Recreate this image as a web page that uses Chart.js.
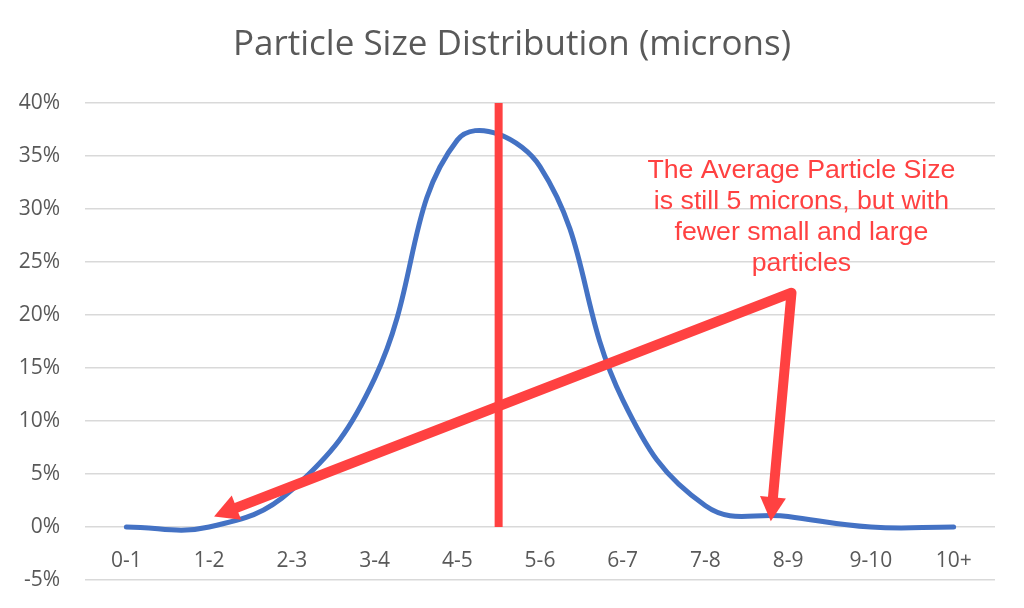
<!DOCTYPE html>
<html>
<head>
<meta charset="utf-8">
<script src="https://cdn.jsdelivr.net/npm/chart.js@4.4.0/dist/chart.umd.min.js"></script>
<style>
  html, body { margin: 0; padding: 0; background: #fff; }
  #wrap { width: 1024px; height: 608px; }
</style>
</head>
<body>
<div id="wrap"><canvas id="sizeChart" width="1024" height="608"></canvas></div>
<script>
// categories (x axis) and percent of particles in each bin
const sizeBins = ["0-1", "1-2", "2-3", "3-4", "4-5", "5-6", "6-7", "7-8", "8-9", "9-10", "10+"];
const percentValues = [0, 0, 3.5, 14, 36.5, 34, 12, 2, 1, 0, 0];

// average marker at 5 microns (between 4-5 and 5-6)
const avgLineX = [4.5, 4.5];
const avgLineY = [0, 40.3];

// arrows: shared start, two ends (x in bin index, y in %)
const arrowStart = { x: 8.04, y: 22.1 };
const arrowEndsX = [1.06, 7.79];
const arrowEndsY = [1.0, 0.55];

const chartTitle = "Particle Size Distribution (microns)";
const noteLines = [
    "The Average Particle Size",
    "is still 5 microns, but with",
    "fewer small and large",
    "particles"
];
const noteAnchor = { x: 8.16, y: 33.6 };

const red = "#FF4141";
const grey = "#595959";

// title centred on the whole canvas (built-in title is centred on padded box)
const titlePlugin = {
    id: "pageTitle",
    afterDraw(chart) {
        const ctx = chart.ctx;
        ctx.save();
        ctx.font = "35px 'Open Sans'";
        ctx.fillStyle = grey;
        ctx.textAlign = "center";
        ctx.textBaseline = "middle";
        ctx.fillText(chartTitle, chart.width / 2, 45);
        ctx.restore();
    }
};

// draws the arrows and the red note
const arrowPlugin = {
    id: "arrows",
    afterDatasetsDraw(chart) {
        const ctx = chart.ctx;
        const xs = chart.scales.x, ys = chart.scales.y;
        const sx = xs.getPixelForValue(arrowStart.x);
        const sy = ys.getPixelForValue(arrowStart.y);
        const headLen = 24, headW = 26;
        ctx.save();
        ctx.strokeStyle = red;
        ctx.fillStyle = red;
        ctx.lineWidth = 10;
        ctx.lineCap = "round";
        ctx.lineJoin = "round";
        const bases = [];
        for (let i = 0; i < arrowEndsX.length; i++) {
            const ex = xs.getPixelForValue(arrowEndsX[i]);
            const ey = ys.getPixelForValue(arrowEndsY[i]);
            const ang = Math.atan2(ey - sy, ex - sx);
            const bx = ex - Math.cos(ang) * headLen;
            const by = ey - Math.sin(ang) * headLen;
            bases.push([ex, ey, bx, by, ang]);
        }
        // shafts as one path so the corner is joined
        ctx.beginPath();
        ctx.moveTo(bases[0][2], bases[0][3]);
        ctx.lineTo(sx, sy);
        ctx.lineTo(bases[1][2], bases[1][3]);
        ctx.stroke();
        bases.forEach(([ex, ey, bx, by, ang]) => {
            const px = -Math.sin(ang) * headW / 2;
            const py = Math.cos(ang) * headW / 2;
            ctx.beginPath();
            ctx.moveTo(ex, ey);
            ctx.lineTo(bx + px, by + py);
            ctx.lineTo(bx - px, by - py);
            ctx.closePath();
            ctx.fill();
        });
        // note text
        ctx.font = "26.7px 'Liberation Sans', Arial, sans-serif";
        ctx.textAlign = "center";
        ctx.textBaseline = "middle";
        const nx = xs.getPixelForValue(noteAnchor.x);
        const ny = ys.getPixelForValue(noteAnchor.y);
        noteLines.forEach((t, i) => ctx.fillText(t, nx, ny + i * 31));
        ctx.restore();
    }
};

let ctx = document.getElementById("sizeChart").getContext("2d");

const sizeChart = new Chart(ctx, {
    type: "line",
    data: {
        datasets: [
            {
                label: "Average",
                data: avgLineX.map((x, i) => ({ x: x, y: avgLineY[i] })),
                borderColor: red,
                borderWidth: 8,
                pointRadius: 0,
                tension: 0,
                order: 1
            },
            {
                label: "Particles",
                data: percentValues.map((v, i) => ({ x: i, y: v })),
                borderColor: "#4472C4",
                borderWidth: 5,
                pointRadius: 0,
                tension: 0.42,
                borderCapStyle: "round",
                order: 2
            }
        ]
    },
    options: {
        responsive: false,
        animation: false,
        layout: { padding: { left: 0, right: 29, top: 103, bottom: 28 } },
        plugins: {
            legend: { display: false },
            tooltip: { enabled: false },
            title: { display: false }
        },
        scales: {
            x: {
                type: "linear",
                min: -0.5,
                max: 10.5,
                position: { y: 0 },
                grid: { display: false, drawTicks: false },
                border: { display: false },
                afterBuildTicks: (scale) => {
                    scale.ticks = sizeBins.map((_, i) => ({ value: i }));
                },
                afterFit: (scale) => { scale.height = 0; },
                ticks: {
                    color: grey,
                    font: { family: "'Open Sans'", size: 21 },
                    padding: 21,
                    maxRotation: 0,
                    autoSkip: false,
                    callback: (v) => sizeBins[v]
                }
            },
            y: {
                min: -5,
                max: 40,
                grid: { color: "#D9D9D9", lineWidth: 1.5, drawTicks: false },
                border: { display: false },
                afterFit: (scale) => {
                    scale.width = 85;
                    scale.paddingTop = 10;
                    scale.paddingBottom = 10;
                },
                ticks: {
                    stepSize: 5,
                    color: grey,
                    font: { family: "'Open Sans'", size: 21 },
                    padding: 25,
                    callback: (v) => v + "%"
                }
            }
        }
    },
    plugins: [arrowPlugin, titlePlugin]
});
</script>
</body>
</html>
